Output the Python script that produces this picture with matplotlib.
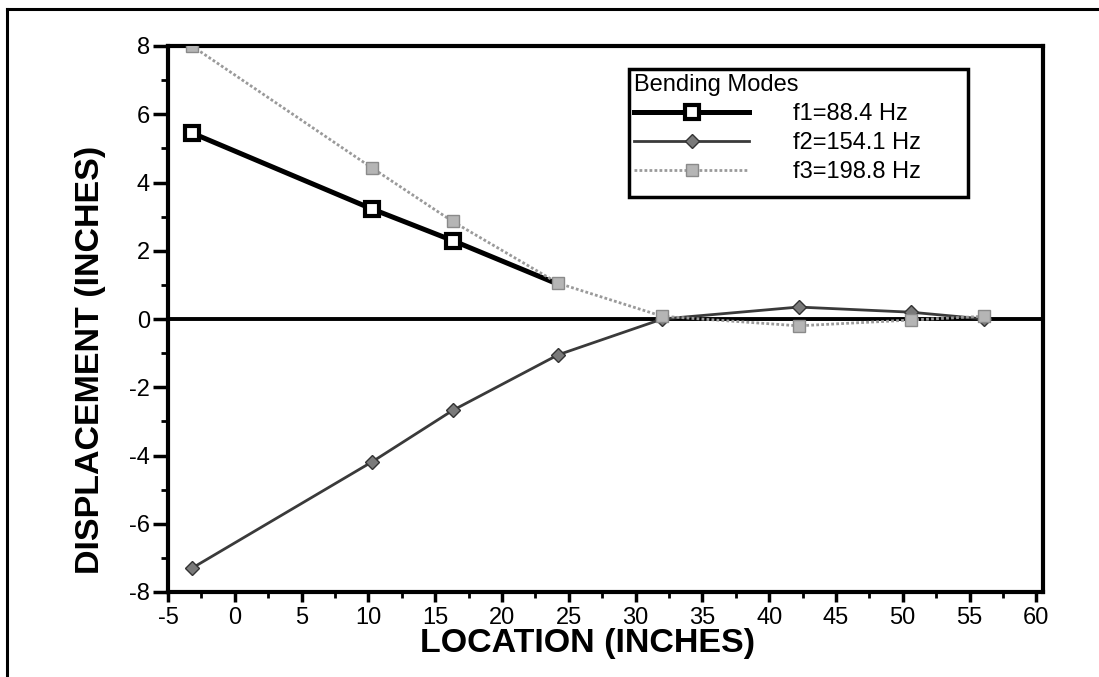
import matplotlib
matplotlib.use("Agg")
import matplotlib.pyplot as plt
from matplotlib.lines import Line2D
from matplotlib.patches import Rectangle
from matplotlib.ticker import MultipleLocator

plt.rcParams['font.family'] = ['Liberation Sans', 'DejaVu Sans']
plt.rcParams['axes.unicode_minus'] = False

# Data
x_f1 = [-3.2, 10.3, 16.3, 24.2]
y_f1 = [5.45, 3.22, 2.3, 1.02]

x_modes = [-3.2, 10.3, 16.3, 24.2, 32.0, 42.2, 50.6, 56.1]
y_f2 = [-7.3, -4.18, -2.68, -1.05, 0.0, 0.35, 0.2, 0.0]
y_f3 = [8.0, 4.42, 2.86, 1.05, 0.08, -0.2, -0.03, 0.08]

labels = ["f1=88.4 Hz", "f2=154.1 Hz", "f3=198.8 Hz"]
legend_title = "Bending Modes"
x_label = "LOCATION (INCHES)"
y_label = "DISPLACEMENT (INCHES)"

W, H = 1099, 677
fig = plt.figure(figsize=(W / 100, H / 100), dpi=100)
ax = fig.add_axes([168 / W, 1 - 592 / H, (1043 - 168) / W, (592 - 46) / H])

ax.axhline(0, color='black', lw=2.8, zorder=1)

l3, = ax.plot(x_modes, y_f3, color='#9a9a9a', lw=2.0, ls=(0, (1, 0.8)),
              marker='s', ms=8.5, mfc='#b5b5b5', mec='#8a8a8a', mew=1, zorder=4)
l2, = ax.plot(x_modes, y_f2, color='#3a3a3a', lw=2.0,
              marker='D', ms=7, mfc='#7a7a7a', mec='#333333', mew=1, zorder=2)
l1, = ax.plot(x_f1, y_f1, color='black', lw=3.6,
              marker='s', ms=10, mfc='white', mec='black', mew=3,
              markevery=[0, 1, 2], zorder=3)

ax.set_xlim(-5, 60.5)
ax.set_ylim(-8, 8)
ax.xaxis.set_major_locator(MultipleLocator(5))
ax.xaxis.set_minor_locator(MultipleLocator(2.5))
ax.yaxis.set_major_locator(MultipleLocator(2))
ax.yaxis.set_minor_locator(MultipleLocator(1))
ax.tick_params(which='both', direction='out', labelsize=17)
ax.tick_params(axis='x', which='major', length=7, width=2.5, pad=4)
ax.tick_params(axis='x', which='minor', length=4.5, width=2)
ax.tick_params(axis='y', which='major', length=11, width=2.5, pad=2)
ax.tick_params(axis='y', which='minor', length=5, width=2)
for s in ax.spines.values():
    s.set_linewidth(3)

ax.set_xlabel(x_label, fontsize=24.5, fontweight='bold')
ax.set_ylabel(y_label, fontsize=24.5, fontweight='bold')
ax.xaxis.set_label_coords(0.48, -0.066)
ax.xaxis.label.set_va('top')
ax.yaxis.set_label_coords((106 - 168) / 875, 0.425)

leg = ax.legend([l1, l2, l3], labels, title=legend_title, loc='upper left',
                bbox_to_anchor=(629 / W, 1 - 69 / H), bbox_transform=fig.transFigure,
                fontsize=17, title_fontsize=17, numpoints=1,
                handlelength=4.9, handletextpad=1.85, borderpad=0.2, labelspacing=0.3,
                borderaxespad=0, frameon=False)
leg._legend_box.align = "left"

fig.add_artist(Rectangle((629 / W, 1 - 197 / H), (968 - 629) / W, (197 - 69) / H,
                         transform=fig.transFigure, fill=False, ec='black', lw=2.5, zorder=5))

# outer frame
fig.add_artist(Line2D([0.006, 0.006], [0.0, 0.987], transform=fig.transFigure, color='black', lw=2.2))
fig.add_artist(Line2D([0.006, 0.998], [0.987, 0.987], transform=fig.transFigure, color='black', lw=2.2))

fig.savefig("out.png", dpi=100)
